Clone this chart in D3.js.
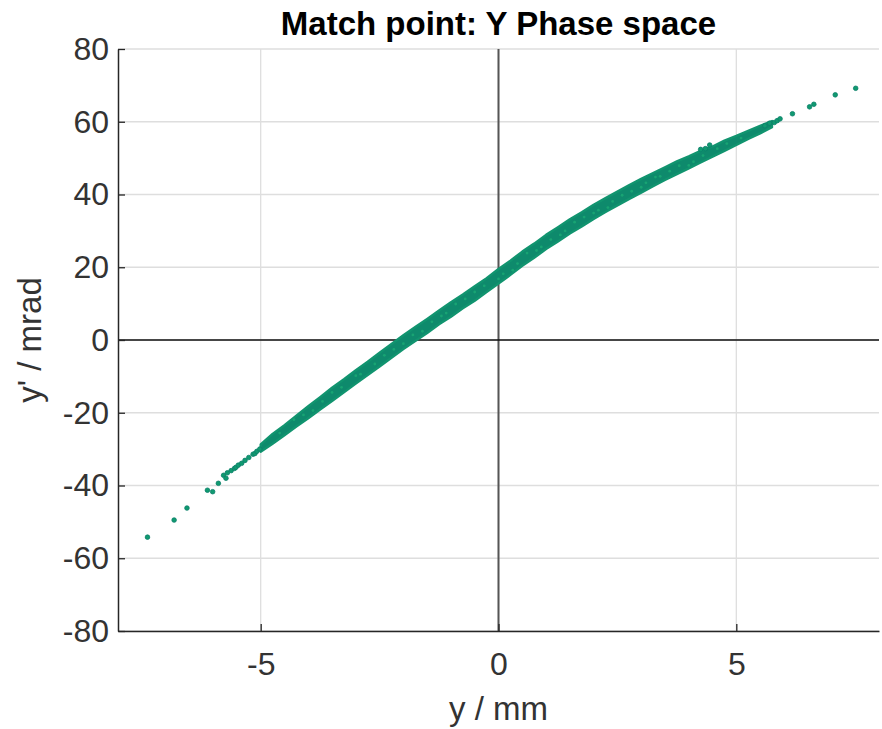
<!DOCTYPE html>
<html lang="en">
<head>
<meta charset="UTF-8">
<title>Match point: Y Phase space</title>
<script src="https://d3js.org/d3.v7.min.js"></script>
<style>
  body { margin: 0; background: #fff; }
  svg text { font-family: "Liberation Sans", Arial, Helvetica, sans-serif; }
</style>
</head>
<body>
<div id="chart"></div>
<script>
// axis ticks
var xTicks = [-5, 0, 5];
var yTicks = [-80, -60, -40, -20, 0, 20, 40, 60, 80];

// dense part of the distribution: lower / upper edge of the band (y' in mrad) at y (mm)
var bandY  = [-5.00, -4.75, -4.50, -4.25, -4.00, -3.75, -3.50, -3.25, -3.00, -2.75, -2.50, -2.25,
              -2.00, -1.75, -1.50, -1.25, -1.00, -0.75, -0.50, -0.25, 0.00, 0.25, 0.50, 0.75,
              1.00, 1.25, 1.50, 1.75, 2.00, 2.25, 2.50, 2.75, 3.00, 3.25, 3.50, 3.75,
              4.00, 4.25, 4.50, 4.75, 5.00, 5.25, 5.50, 5.75];
var bandLo = [-30.7, -28.5, -26.2, -23.8, -21.5, -19.1, -16.8, -14.4, -12.0, -9.6, -7.3, -4.9,
              -2.5, -0.3, 1.9, 4.3, 6.4, 8.7, 10.8, 13.2, 15.5, 17.9, 20.4, 22.6,
              25.0, 27.1, 29.3, 31.2, 33.3, 35.2, 37.0, 38.8, 40.5, 42.3, 44.0, 45.6,
              47.2, 48.8, 50.4, 52.0, 53.6, 55.3, 56.8, 58.5];
var bandHi = [-28.7, -25.8, -23.4, -20.8, -18.2, -15.7, -13.1, -10.8, -8.3, -6.0, -3.5, -1.1,
              1.3, 3.6, 5.8, 8.1, 10.4, 12.5, 14.8, 17.0, 19.5, 21.8, 24.3, 26.5,
              28.9, 31.0, 33.2, 35.1, 37.2, 39.0, 40.8, 42.6, 44.3, 45.9, 47.5, 49.1,
              50.5, 52.0, 53.2, 54.8, 56.1, 57.5, 58.9, 60.2];

// individual particles: sparse tails and ragged band ends
var ptY  = [-7.38, -6.82, -6.55, -6.12, -6.01, -5.89, -5.78, -5.73, -5.70, -5.62, -5.55, -5.52,
            -5.47, -5.40, -5.33, -5.25, -5.16, -5.12, -5.08, -5.02,
            4.25, 4.35, 4.44, 5.60, 5.70, 5.80, 5.86, 5.92, 6.18, 6.54, 6.63, 7.08, 7.51];
var ptYp = [-54.2, -49.5, -46.2, -41.3, -41.7, -39.4, -37.2, -38.0, -36.5, -35.9, -35.3, -35.0,
            -34.4, -33.9, -33.1, -32.3, -31.4, -31.2, -30.6, -30.0,
            52.4, 52.6, 53.6, 58.9, 59.6, 59.8, 60.3, 60.8, 62.2, 64.1, 64.8, 67.4, 69.2];

// lighter speckles seen inside the band
var spY  = [-4.6, -4.1, -3.7, -3.3, -2.9, -2.6, -2.2, -1.8, -1.4, -1.1, -0.7, -0.3,
            0.1, 0.4, 0.8, 1.1, 1.4, 1.8, 2.1, 2.4, 2.8, 3.1, 3.4, 3.8, 4.1, 4.6, 5.1,
            -3.9, -3.0, -2.0, -1.2, -0.5, 0.3, 0.9, 1.6, 2.3, 3.0, 3.6, 4.3,
            -4.3, -3.5, -2.4, -1.6, -0.9, 0.0, 0.6, 1.3, 2.0, 2.6, 3.3, 4.0, 4.8];
var spYp = [-25.6, -20.6, -16.9, -13.0, -9.4, -6.6, -2.6, 1.4, 5.0, 7.4, 11.3, 14.9,
            18.2, 21.0, 24.6, 27.6, 30.0, 33.8, 35.7, 38.1, 40.9, 43.2, 45.0, 47.9, 49.0, 52.6, 55.5,
            -19.4, -9.8, -1.0, 6.6, 13.2, 19.2, 25.6, 32.4, 36.4, 42.0, 46.4, 50.7,
            -21.9, -14.4, -4.2, 2.4, 9.9, 16.8, 23.9, 28.9, 34.9, 39.8, 44.8, 48.0, 54.0];

var W = 882, H = 729;
var mLeft = 118, mRight = 879, mTop = 49, mBottom = 631;

var svg = d3.select("#chart").append("svg")
    .attr("width", W).attr("height", H);

var x = d3.scaleLinear().domain([-8, 8]).range([mLeft, mRight]);
var y = d3.scaleLinear().domain([-80, 80]).range([mBottom, mTop]);

// grid
svg.append("g").selectAll("line").data(xTicks).enter().append("line")
    .attr("x1", d => x(d)).attr("x2", d => x(d))
    .attr("y1", mTop).attr("y2", mBottom)
    .attr("stroke", "#dedede").attr("stroke-width", 1.3);
svg.append("g").selectAll("line").data(yTicks).enter().append("line")
    .attr("x1", mLeft).attr("x2", mRight)
    .attr("y1", d => y(d)).attr("y2", d => y(d))
    .attr("stroke", "#dedede").attr("stroke-width", 1.3);

// zero lines
svg.append("line")
    .attr("x1", x(0)).attr("x2", x(0)).attr("y1", mTop).attr("y2", mBottom)
    .attr("stroke", "#555").attr("stroke-width", 2);
svg.append("line")
    .attr("x1", mLeft).attr("x2", mRight).attr("y1", y(0)).attr("y2", y(0))
    .attr("stroke", "#111").attr("stroke-width", 1.6);

// band
var band = bandY.map((v, i) => ({ y: v, lo: bandLo[i], hi: bandHi[i] }));
var area = d3.area()
    .x(d => x(d.y)).y0(d => y(d.lo)).y1(d => y(d.hi))
    .curve(d3.curveLinear);
svg.append("path").datum(band)
    .attr("d", area)
    .attr("fill", "#0e8a6c")
    .attr("stroke", "#11946f").attr("stroke-width", 2.4)
    .attr("stroke-linejoin", "round");

// speckles
svg.append("g").selectAll("circle").data(spY).enter().append("circle")
    .attr("cx", (d, i) => x(d)).attr("cy", (d, i) => y(spYp[i]))
    .attr("r", 1.4).attr("fill", "#1aa874").attr("opacity", 0.85);

// particles
svg.append("g").selectAll("circle").data(ptY).enter().append("circle")
    .attr("cx", (d, i) => x(d)).attr("cy", (d, i) => y(ptYp[i]))
    .attr("r", 2.3).attr("fill", "#109a70")
    .attr("stroke", "#0b7f69").attr("stroke-width", 0.8);

// axes
var ax = d3.axisBottom(x).tickValues(xTicks).tickFormat(d => String(d))
    .tickSizeInner(-7).tickSizeOuter(0).tickPadding(21);
var ay = d3.axisLeft(y).tickValues(yTicks).tickFormat(d => String(d))
    .tickSizeInner(-7).tickSizeOuter(0).tickPadding(9);

var gx = svg.append("g").attr("transform", "translate(0," + mBottom + ")").call(ax);
var gy = svg.append("g").attr("transform", "translate(" + mLeft + ",0)").call(ay);
[gx, gy].forEach(g => {
    g.select(".domain").attr("stroke", "#262626").attr("stroke-width", 1.5);
    g.selectAll(".tick line").attr("stroke", "#262626").attr("stroke-width", 1.3);
    g.selectAll(".tick text").attr("fill", "#333").style("font-size", "32px");
});

// title and labels
svg.append("text")
    .attr("x", (mLeft + mRight) / 2).attr("y", 35)
    .attr("text-anchor", "middle")
    .style("font-size", "33px").style("font-weight", "bold").attr("fill", "#000")
    .text("Match point: Y Phase space");
svg.append("text")
    .attr("x", (mLeft + mRight) / 2).attr("y", 720)
    .attr("text-anchor", "middle")
    .style("font-size", "33px").attr("fill", "#333")
    .text("y / mm");
svg.append("text")
    .attr("transform", "translate(41," + ((mTop + mBottom) / 2) + ") rotate(-90)")
    .attr("text-anchor", "middle")
    .style("font-size", "33px").attr("fill", "#333")
    .text("y' / mrad");
</script>
</body>
</html>
